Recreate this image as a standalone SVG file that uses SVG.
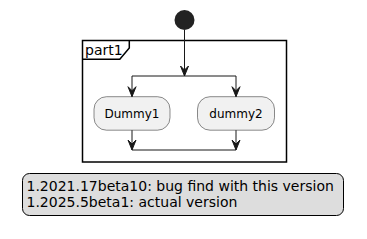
<svg xmlns="http://www.w3.org/2000/svg" width="367" height="239" viewBox="0 0 367 239">
<style>
.node{fill:#F1F1F1;stroke:#181818;stroke-width:0.5}
.lbl{font-family:"DejaVu Sans",sans-serif;font-size:12px;fill:#000}
.big{font-family:"DejaVu Sans",sans-serif;font-size:14px;fill:#000}
.ln{stroke:#181818;stroke-width:1;fill:none}
.ah{fill:#181818;stroke:#181818;stroke-width:1}
</style>
<rect width="367" height="239" fill="#FFFFFF"/>
<g id="start"><circle cx="184.5" cy="20" r="10" fill="#222222"/></g>
<g id="part1">
<rect x="82.5" y="40.5" width="204" height="121.5" fill="none" stroke="#000" stroke-width="1.5"/>
<path d="M82.5,59.3 L119.8,59.3 L129.3,48 L129.3,40.5" fill="none" stroke="#000" stroke-width="1.5"/>
<text class="big" x="85" y="55">part1</text>
</g>
<g id="Dummy1">
<rect class="node" x="94" y="96.7" width="76" height="33.5" rx="12.5" ry="12.5"/>
<text class="lbl" x="132" y="118.2" text-anchor="middle">Dummy1</text>
</g>
<g id="dummy2">
<rect class="node" x="197.5" y="96.7" width="77" height="33.5" rx="12.5" ry="12.5"/>
<text class="lbl" x="236" y="118.2" text-anchor="middle">dummy2</text>
</g>
<g id="connectors">
<line class="ln" x1="184.5" y1="30" x2="184.5" y2="76"/>
<polygon class="ah" points="180.5,66 184.5,76 188.5,66 184.5,70"/>
<line class="ln" x1="132" y1="76" x2="236" y2="76"/>
<line class="ln" x1="132" y1="76" x2="132" y2="96.7"/>
<polygon class="ah" points="128,86.7 132,96.7 136,86.7 132,90.7"/>
<line class="ln" x1="236" y1="76" x2="236" y2="96.7"/>
<polygon class="ah" points="232,86.7 236,96.7 240,86.7 236,90.7"/>
<line class="ln" x1="132" y1="130.2" x2="132" y2="150"/>
<polygon class="ah" points="128,140 132,150 136,140 132,144"/>
<line class="ln" x1="236" y1="130.2" x2="236" y2="150"/>
<polygon class="ah" points="232,140 236,150 240,140 236,144"/>
<line class="ln" x1="132" y1="150" x2="236" y2="150"/>
</g>
<g id="legend">
<rect x="22.5" y="173.5" width="321" height="42" rx="7" ry="7" fill="#DDDDDD" stroke="#000" stroke-width="1"/>
<text class="big" x="26.5" y="191">1.2021.17beta10: bug find with this version</text>
<text class="big" x="26.5" y="207">1.2025.5beta1: actual version</text>
</g>
</svg>
